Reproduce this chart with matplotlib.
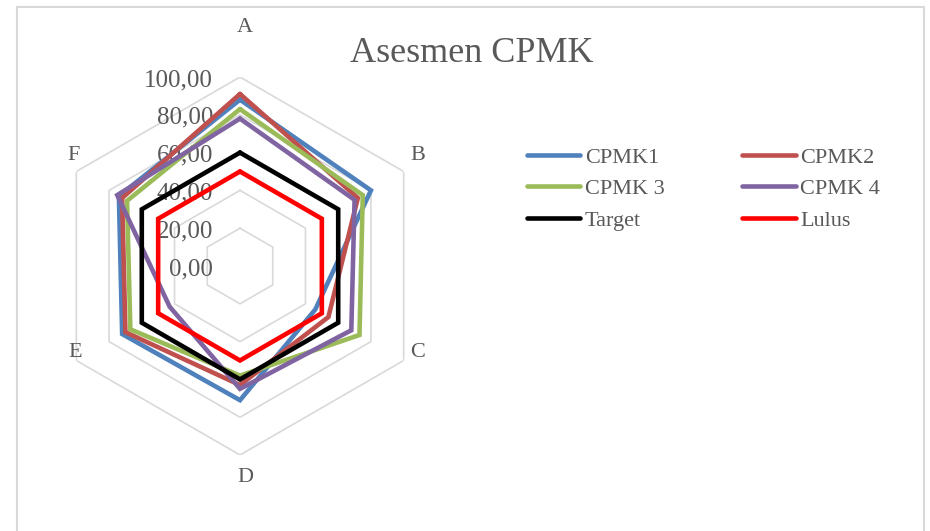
import numpy as np
import matplotlib
matplotlib.use('Agg')
import matplotlib.pyplot as plt
from matplotlib.patches import Rectangle

categories = ['A', 'B', 'C', 'D', 'E', 'F']
cpmk1 = [88, 80, 46, 71, 72, 74]
cpmk2 = [91, 72, 54, 63, 70, 72]
cpmk3 = [83, 75, 73, 58, 67, 69]
cpmk4 = [78, 70, 68, 65, 43, 75]
target = [60, 60, 60, 60, 60, 60]
lulus = [50, 50, 50, 50, 50, 50]
series_names = ['CPMK1', 'CPMK2', 'CPMK 3', 'CPMK 4', 'Target', 'Lulus']
series_values = [cpmk1, cpmk2, cpmk3, cpmk4, target, lulus]
radial_ticks = [0, 20, 40, 60, 80, 100]

colors = ['#4f81bd', '#c0504d', '#9bbb59', '#8064a2', '#000000', '#ff0000']
TEXT = '#595959'
GRID = '#d9d9d9'
FONT = 'Liberation Serif'

W, H = 930, 531
fig = plt.figure(figsize=(W / 100, H / 100), dpi=100)

# chart area border (runs off the bottom of the image)
fig.patches.append(Rectangle((17 / W, -0.05), (924 - 17) / W, (H - 7) / H + 0.05,
                             transform=fig.transFigure, fill=False,
                             edgecolor=GRID, linewidth=1.5))

cx, cy, rad = 240, H - 266, 189
ax = fig.add_axes([(cx - rad) / W, (cy - rad) / H, 2 * rad / W, 2 * rad / H], polar=True)
ax.set_theta_zero_location('N')
ax.set_theta_direction(-1)
ax.set_ylim(0, 100)
ax.grid(False)
ax.spines['polar'].set_visible(False)
ax.set_xticks([])
ax.set_yticks([])
ax.patch.set_alpha(0)

n = len(categories)
angles = np.linspace(0, 2 * np.pi, n, endpoint=False)
closed = np.append(angles, angles[0])

# hexagonal gridlines
for r in radial_ticks[1:]:
    ax.plot(closed, [r] * (n + 1), color=GRID, lw=1.2, zorder=1)

for name, vals, col in zip(series_names, series_values, colors):
    ax.plot(closed, vals + vals[:1], color=col, lw=3.3, label=name,
            solid_joinstyle='miter', solid_capstyle='round', zorder=3)

# radial tick labels, left of the vertical axis
for r in radial_ticks:
    ax.annotate(f'{r:.2f}'.replace('.', ','), xy=(0, r), xytext=(-27, -3),
                textcoords='offset pixels', ha='right', va='center',
                fontsize=18, color=TEXT, family=FONT, zorder=2)

# category labels, offset (pixels) from the outer ring vertex
label_off = [(5, 50), (14, 16), (14, 8), (5, -23), (-1, 8), (-3, 16)]
for ang, lab, off in zip(angles, categories, label_off):
    ax.annotate(lab, xy=(ang, 100), xytext=off, textcoords='offset pixels',
                ha='center', va='center', fontsize=16, color=TEXT, family=FONT)

fig.text(472 / W, 1 - 54 / H, 'Asesmen CPMK', ha='center', va='center',
         fontsize=26, color=TEXT, family=FONT)

handles, labels = ax.get_legend_handles_labels()
order = [0, 2, 4, 1, 3, 5]
leg = fig.legend([handles[i] for i in order], [labels[i] for i in order],
                 ncol=2, loc='upper left', bbox_to_anchor=(507 / W, 1 - 127 / H),
                 frameon=False, handlelength=2.4, handletextpad=0.2,
                 columnspacing=3.5, labelspacing=0.5,
                 prop={'family': FONT, 'size': 16})
for t in leg.get_texts():
    t.set_color(TEXT)

fig.savefig('out.png', dpi=100)
